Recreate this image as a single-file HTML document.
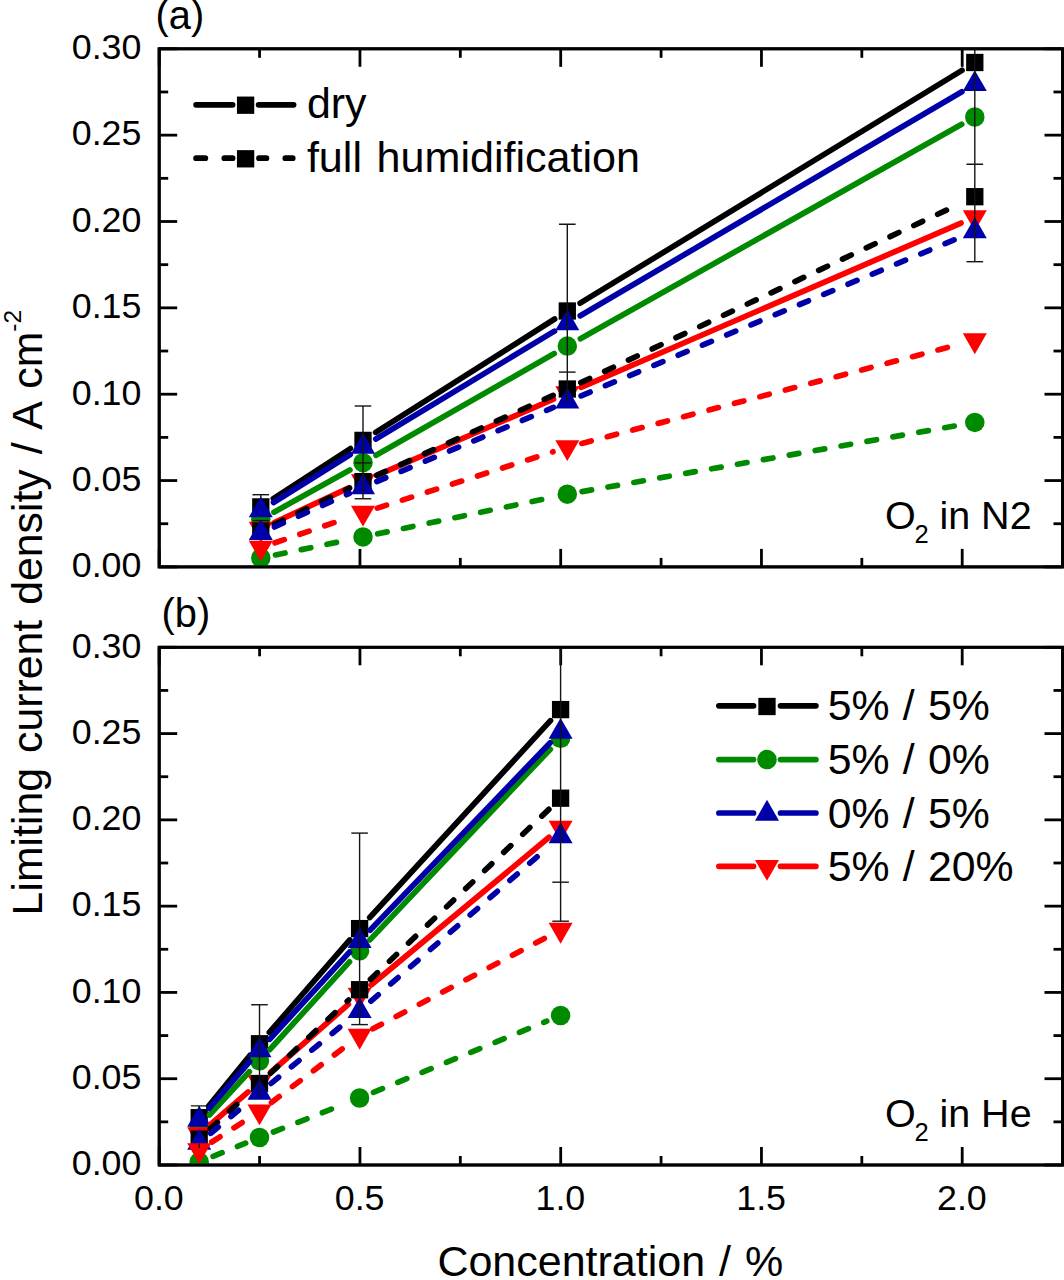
<!DOCTYPE html>
<html><head><meta charset="utf-8"><title>Limiting current density</title>
<style>
html,body{margin:0;padding:0;background:#fff;}
body{width:1064px;height:1280px;overflow:hidden;}
svg{display:block;}
text{font-family:"Liberation Sans",sans-serif;fill:#000;}
</style></head><body>
<svg width="1064" height="1280" viewBox="0 0 1064 1280">
<rect width="1064" height="1280" fill="#fff"/>

<defs><clipPath id="ct"><rect x="159.2" y="48.8" width="903.3" height="518.1"/></clipPath><clipPath id="cb"><rect x="159.2" y="647.3" width="903.3" height="517.7"/></clipPath></defs>
<g id="top">
<g stroke="#000" stroke-width="2.8" stroke-linecap="butt"><line x1="159.2" y1="566.90" x2="177.2" y2="566.90"/>
<line x1="1062.5" y1="566.90" x2="1044.5" y2="566.90"/>
<line x1="159.2" y1="523.73" x2="168.2" y2="523.73"/>
<line x1="1062.5" y1="523.73" x2="1053.5" y2="523.73"/>
<line x1="159.2" y1="480.55" x2="177.2" y2="480.55"/>
<line x1="1062.5" y1="480.55" x2="1044.5" y2="480.55"/>
<line x1="159.2" y1="437.37" x2="168.2" y2="437.37"/>
<line x1="1062.5" y1="437.37" x2="1053.5" y2="437.37"/>
<line x1="159.2" y1="394.20" x2="177.2" y2="394.20"/>
<line x1="1062.5" y1="394.20" x2="1044.5" y2="394.20"/>
<line x1="159.2" y1="351.02" x2="168.2" y2="351.02"/>
<line x1="1062.5" y1="351.02" x2="1053.5" y2="351.02"/>
<line x1="159.2" y1="307.85" x2="177.2" y2="307.85"/>
<line x1="1062.5" y1="307.85" x2="1044.5" y2="307.85"/>
<line x1="159.2" y1="264.67" x2="168.2" y2="264.67"/>
<line x1="1062.5" y1="264.67" x2="1053.5" y2="264.67"/>
<line x1="159.2" y1="221.50" x2="177.2" y2="221.50"/>
<line x1="1062.5" y1="221.50" x2="1044.5" y2="221.50"/>
<line x1="159.2" y1="178.32" x2="168.2" y2="178.32"/>
<line x1="1062.5" y1="178.32" x2="1053.5" y2="178.32"/>
<line x1="159.2" y1="135.15" x2="177.2" y2="135.15"/>
<line x1="1062.5" y1="135.15" x2="1044.5" y2="135.15"/>
<line x1="159.2" y1="91.97" x2="168.2" y2="91.97"/>
<line x1="1062.5" y1="91.97" x2="1053.5" y2="91.97"/>
<line x1="159.2" y1="48.80" x2="177.2" y2="48.80"/>
<line x1="1062.5" y1="48.80" x2="1044.5" y2="48.80"/>
<line x1="159.20" y1="566.9" x2="159.20" y2="548.9"/>
<line x1="159.20" y1="48.8" x2="159.20" y2="66.8"/>
<line x1="259.57" y1="566.9" x2="259.57" y2="557.9"/>
<line x1="259.57" y1="48.8" x2="259.57" y2="57.8"/>
<line x1="359.95" y1="566.9" x2="359.95" y2="548.9"/>
<line x1="359.95" y1="48.8" x2="359.95" y2="66.8"/>
<line x1="460.32" y1="566.9" x2="460.32" y2="557.9"/>
<line x1="460.32" y1="48.8" x2="460.32" y2="57.8"/>
<line x1="560.70" y1="566.9" x2="560.70" y2="548.9"/>
<line x1="560.70" y1="48.8" x2="560.70" y2="66.8"/>
<line x1="661.08" y1="566.9" x2="661.08" y2="557.9"/>
<line x1="661.08" y1="48.8" x2="661.08" y2="57.8"/>
<line x1="761.45" y1="566.9" x2="761.45" y2="548.9"/>
<line x1="761.45" y1="48.8" x2="761.45" y2="66.8"/>
<line x1="861.83" y1="566.9" x2="861.83" y2="557.9"/>
<line x1="861.83" y1="48.8" x2="861.83" y2="57.8"/>
<line x1="962.20" y1="566.9" x2="962.20" y2="548.9"/>
<line x1="962.20" y1="48.8" x2="962.20" y2="66.8"/></g><rect x="159.2" y="48.8" width="903.3" height="518.1" fill="none" stroke="#000" stroke-width="2.9"/>
<g clip-path="url(#ct)">
<line x1="273.37" y1="498.72" x2="350.43" y2="448.58" stroke="#000000" stroke-width="5.7" stroke-linecap="round"/>
<line x1="375.67" y1="432.37" x2="554.63" y2="319.03" stroke="#000000" stroke-width="5.7" stroke-linecap="round"/>
<line x1="580.11" y1="303.19" x2="961.99" y2="70.31" stroke="#000000" stroke-width="5.7" stroke-linecap="round"/>
<rect x="252.15" y="498.25" width="17.3" height="17.3" fill="#000000"/>
<rect x="354.35" y="431.75" width="17.3" height="17.3" fill="#000000"/>
<rect x="558.65" y="302.35" width="17.3" height="17.3" fill="#000000"/>
<rect x="966.15" y="53.85" width="17.3" height="17.3" fill="#000000"/>
<line x1="273.91" y1="512.21" x2="349.89" y2="469.99" stroke="#008A00" stroke-width="5.7" stroke-linecap="round"/>
<line x1="376.03" y1="455.26" x2="554.27" y2="353.54" stroke="#008A00" stroke-width="5.7" stroke-linecap="round"/>
<line x1="580.38" y1="338.75" x2="961.72" y2="124.35" stroke="#008A00" stroke-width="5.7" stroke-linecap="round"/>
<circle cx="260.80" cy="519.50" r="9.75" fill="#008A00"/>
<circle cx="363.00" cy="462.70" r="9.75" fill="#008A00"/>
<circle cx="567.30" cy="346.10" r="9.75" fill="#008A00"/>
<circle cx="974.80" cy="117.00" r="9.75" fill="#008A00"/>
<line x1="273.53" y1="502.47" x2="350.27" y2="454.63" stroke="#0000A8" stroke-width="5.7" stroke-linecap="round"/>
<line x1="375.84" y1="438.95" x2="554.46" y2="331.15" stroke="#0000A8" stroke-width="5.7" stroke-linecap="round"/>
<line x1="580.23" y1="315.80" x2="961.87" y2="91.70" stroke="#0000A8" stroke-width="5.7" stroke-linecap="round"/>
<polygon points="260.80,496.53 272.80,517.33 248.80,517.33" fill="#0000A8"/>
<polygon points="363.00,432.83 375.00,453.63 351.00,453.63" fill="#0000A8"/>
<polygon points="567.30,309.53 579.30,330.33 555.30,330.33" fill="#0000A8"/>
<polygon points="974.80,70.23 986.80,91.03 962.80,91.03" fill="#0000A8"/>
<line x1="274.40" y1="522.48" x2="349.40" y2="487.62" stroke="#FF0000" stroke-width="5.7" stroke-linecap="round"/>
<line x1="376.78" y1="475.37" x2="553.52" y2="399.23" stroke="#FF0000" stroke-width="5.7" stroke-linecap="round"/>
<line x1="581.07" y1="387.35" x2="961.03" y2="223.05" stroke="#FF0000" stroke-width="5.7" stroke-linecap="round"/>
<polygon points="260.80,542.67 272.80,521.87 248.80,521.87" fill="#FF0000"/>
<polygon points="363.00,495.17 375.00,474.37 351.00,474.37" fill="#FF0000"/>
<polygon points="567.30,407.17 579.30,386.37 555.30,386.37" fill="#FF0000"/>
<polygon points="974.80,230.97 986.80,210.17 962.80,210.17" fill="#FF0000"/>
<line x1="274.31" y1="524.47" x2="349.49" y2="488.13" stroke="#000000" stroke-width="5.7" stroke-linecap="round" stroke-dasharray="9.7 16.6"/>
<line x1="376.66" y1="475.41" x2="553.64" y2="395.19" stroke="#000000" stroke-width="5.7" stroke-linecap="round" stroke-dasharray="9.7 16.6"/>
<line x1="580.87" y1="382.60" x2="961.23" y2="203.10" stroke="#000000" stroke-width="5.7" stroke-linecap="round" stroke-dasharray="9.7 16.6"/>
<rect x="252.15" y="522.35" width="17.3" height="17.3" fill="#000000"/>
<rect x="354.35" y="472.95" width="17.3" height="17.3" fill="#000000"/>
<rect x="558.65" y="380.35" width="17.3" height="17.3" fill="#000000"/>
<rect x="966.15" y="188.05" width="17.3" height="17.3" fill="#000000"/>
<line x1="275.49" y1="554.97" x2="348.31" y2="539.93" stroke="#008A00" stroke-width="5.7" stroke-linecap="round" stroke-dasharray="9.7 16.6"/>
<line x1="377.68" y1="533.83" x2="552.62" y2="497.27" stroke="#008A00" stroke-width="5.7" stroke-linecap="round" stroke-dasharray="9.7 16.6"/>
<line x1="582.07" y1="491.60" x2="960.03" y2="425.00" stroke="#008A00" stroke-width="5.7" stroke-linecap="round" stroke-dasharray="9.7 16.6"/>
<circle cx="260.80" cy="558.00" r="9.75" fill="#008A00"/>
<circle cx="363.00" cy="536.90" r="9.75" fill="#008A00"/>
<circle cx="567.30" cy="494.20" r="9.75" fill="#008A00"/>
<circle cx="974.80" cy="422.40" r="9.75" fill="#008A00"/>
<line x1="274.49" y1="526.97" x2="349.31" y2="493.43" stroke="#0000A8" stroke-width="5.7" stroke-linecap="round" stroke-dasharray="9.7 16.6"/>
<line x1="376.83" y1="481.50" x2="553.47" y2="407.40" stroke="#0000A8" stroke-width="5.7" stroke-linecap="round" stroke-dasharray="9.7 16.6"/>
<line x1="581.14" y1="395.81" x2="960.96" y2="236.99" stroke="#0000A8" stroke-width="5.7" stroke-linecap="round" stroke-dasharray="9.7 16.6"/>
<polygon points="260.80,519.23 272.80,540.03 248.80,540.03" fill="#0000A8"/>
<polygon points="363.00,473.43 375.00,494.23 351.00,494.23" fill="#0000A8"/>
<polygon points="567.30,387.73 579.30,408.53 555.30,408.53" fill="#0000A8"/>
<polygon points="974.80,217.33 986.80,238.13 962.80,238.13" fill="#0000A8"/>
<line x1="275.00" y1="542.75" x2="348.80" y2="517.55" stroke="#FF0000" stroke-width="5.7" stroke-linecap="round" stroke-dasharray="9.7 16.6"/>
<line x1="377.28" y1="508.12" x2="553.02" y2="451.78" stroke="#FF0000" stroke-width="5.7" stroke-linecap="round" stroke-dasharray="9.7 16.6"/>
<line x1="581.81" y1="443.39" x2="960.29" y2="344.11" stroke="#FF0000" stroke-width="5.7" stroke-linecap="round" stroke-dasharray="9.7 16.6"/>
<polygon points="260.80,561.47 272.80,540.67 248.80,540.67" fill="#FF0000"/>
<polygon points="363.00,526.57 375.00,505.77 351.00,505.77" fill="#FF0000"/>
<polygon points="567.30,461.07 579.30,440.27 555.30,440.27" fill="#FF0000"/>
<polygon points="974.80,354.17 986.80,333.37 962.80,333.37" fill="#FF0000"/>
<line x1="260.80" y1="494.70" x2="260.80" y2="498.60" stroke="#141414" stroke-width="1.4"/>
<line x1="252.50" y1="494.70" x2="269.10" y2="494.70" stroke="#141414" stroke-width="1.4"/>
<line x1="252.50" y1="520.60" x2="269.10" y2="520.60" stroke="#141414" stroke-width="1.4"/>
<line x1="363.00" y1="406.00" x2="363.00" y2="498.75" stroke="#141414" stroke-width="1.4"/>
<line x1="354.70" y1="406.00" x2="371.30" y2="406.00" stroke="#141414" stroke-width="1.4"/>
<line x1="354.70" y1="462.90" x2="371.30" y2="462.90" stroke="#141414" stroke-width="1.4"/>
<line x1="354.70" y1="498.75" x2="371.30" y2="498.75" stroke="#141414" stroke-width="1.4"/>
<line x1="567.30" y1="224.30" x2="567.30" y2="403.00" stroke="#141414" stroke-width="1.4"/>
<line x1="559.00" y1="224.30" x2="575.60" y2="224.30" stroke="#141414" stroke-width="1.4"/>
<line x1="559.00" y1="372.10" x2="575.60" y2="372.10" stroke="#141414" stroke-width="1.4"/>
<line x1="974.80" y1="48.00" x2="974.80" y2="261.70" stroke="#141414" stroke-width="1.4"/>
<line x1="966.50" y1="164.30" x2="983.10" y2="164.30" stroke="#141414" stroke-width="1.4"/>
<line x1="966.50" y1="261.70" x2="983.10" y2="261.70" stroke="#141414" stroke-width="1.4"/>
</g>
<rect x="159.2" y="48.8" width="903.3" height="518.1" fill="none" stroke="#000" stroke-width="2.9"/><g font-size="35.8"><text x="141.4" y="577.20" text-anchor="end">0.00</text>
<text x="141.4" y="490.85" text-anchor="end">0.05</text>
<text x="141.4" y="404.50" text-anchor="end">0.10</text>
<text x="141.4" y="318.15" text-anchor="end">0.15</text>
<text x="141.4" y="231.80" text-anchor="end">0.20</text>
<text x="141.4" y="145.45" text-anchor="end">0.25</text>
<text x="141.4" y="59.10" text-anchor="end">0.30</text></g>
</g>
<g id="bottom">
<g stroke="#000" stroke-width="2.8" stroke-linecap="butt"><line x1="159.2" y1="1165.00" x2="177.2" y2="1165.00"/>
<line x1="1062.5" y1="1165.00" x2="1044.5" y2="1165.00"/>
<line x1="159.2" y1="1121.86" x2="168.2" y2="1121.86"/>
<line x1="1062.5" y1="1121.86" x2="1053.5" y2="1121.86"/>
<line x1="159.2" y1="1078.72" x2="177.2" y2="1078.72"/>
<line x1="1062.5" y1="1078.72" x2="1044.5" y2="1078.72"/>
<line x1="159.2" y1="1035.58" x2="168.2" y2="1035.58"/>
<line x1="1062.5" y1="1035.58" x2="1053.5" y2="1035.58"/>
<line x1="159.2" y1="992.43" x2="177.2" y2="992.43"/>
<line x1="1062.5" y1="992.43" x2="1044.5" y2="992.43"/>
<line x1="159.2" y1="949.29" x2="168.2" y2="949.29"/>
<line x1="1062.5" y1="949.29" x2="1053.5" y2="949.29"/>
<line x1="159.2" y1="906.15" x2="177.2" y2="906.15"/>
<line x1="1062.5" y1="906.15" x2="1044.5" y2="906.15"/>
<line x1="159.2" y1="863.01" x2="168.2" y2="863.01"/>
<line x1="1062.5" y1="863.01" x2="1053.5" y2="863.01"/>
<line x1="159.2" y1="819.87" x2="177.2" y2="819.87"/>
<line x1="1062.5" y1="819.87" x2="1044.5" y2="819.87"/>
<line x1="159.2" y1="776.72" x2="168.2" y2="776.72"/>
<line x1="1062.5" y1="776.72" x2="1053.5" y2="776.72"/>
<line x1="159.2" y1="733.58" x2="177.2" y2="733.58"/>
<line x1="1062.5" y1="733.58" x2="1044.5" y2="733.58"/>
<line x1="159.2" y1="690.44" x2="168.2" y2="690.44"/>
<line x1="1062.5" y1="690.44" x2="1053.5" y2="690.44"/>
<line x1="159.2" y1="647.30" x2="177.2" y2="647.30"/>
<line x1="1062.5" y1="647.30" x2="1044.5" y2="647.30"/>
<line x1="159.20" y1="1165.0" x2="159.20" y2="1147.0"/>
<line x1="159.20" y1="647.3" x2="159.20" y2="665.3"/>
<line x1="259.57" y1="1165.0" x2="259.57" y2="1156.0"/>
<line x1="259.57" y1="647.3" x2="259.57" y2="656.3"/>
<line x1="359.95" y1="1165.0" x2="359.95" y2="1147.0"/>
<line x1="359.95" y1="647.3" x2="359.95" y2="665.3"/>
<line x1="460.32" y1="1165.0" x2="460.32" y2="1156.0"/>
<line x1="460.32" y1="647.3" x2="460.32" y2="656.3"/>
<line x1="560.70" y1="1165.0" x2="560.70" y2="1147.0"/>
<line x1="560.70" y1="647.3" x2="560.70" y2="665.3"/>
<line x1="661.08" y1="1165.0" x2="661.08" y2="1156.0"/>
<line x1="661.08" y1="647.3" x2="661.08" y2="656.3"/>
<line x1="761.45" y1="1165.0" x2="761.45" y2="1147.0"/>
<line x1="761.45" y1="647.3" x2="761.45" y2="665.3"/>
<line x1="861.83" y1="1165.0" x2="861.83" y2="1156.0"/>
<line x1="861.83" y1="647.3" x2="861.83" y2="656.3"/>
<line x1="962.20" y1="1165.0" x2="962.20" y2="1147.0"/>
<line x1="962.20" y1="647.3" x2="962.20" y2="665.3"/></g><rect x="159.2" y="647.3" width="903.3" height="517.7" fill="none" stroke="#000" stroke-width="2.9"/>
<g clip-path="url(#cb)">
<line x1="208.68" y1="1106.07" x2="250.02" y2="1055.38" stroke="#000000" stroke-width="5.7" stroke-linecap="round"/>
<line x1="269.34" y1="1032.43" x2="349.76" y2="939.92" stroke="#000000" stroke-width="5.7" stroke-linecap="round"/>
<line x1="369.74" y1="917.55" x2="550.46" y2="720.65" stroke="#000000" stroke-width="5.7" stroke-linecap="round"/>
<rect x="190.55" y="1109.05" width="17.3" height="17.3" fill="#000000"/>
<rect x="250.85" y="1035.10" width="17.3" height="17.3" fill="#000000"/>
<rect x="350.95" y="919.95" width="17.3" height="17.3" fill="#000000"/>
<rect x="551.95" y="700.95" width="17.3" height="17.3" fill="#000000"/>
<line x1="209.38" y1="1114.99" x2="249.32" y2="1071.81" stroke="#008A00" stroke-width="5.7" stroke-linecap="round"/>
<line x1="269.60" y1="1049.71" x2="349.50" y2="961.89" stroke="#008A00" stroke-width="5.7" stroke-linecap="round"/>
<line x1="369.91" y1="939.90" x2="550.29" y2="749.20" stroke="#008A00" stroke-width="5.7" stroke-linecap="round"/>
<circle cx="199.20" cy="1126.00" r="9.75" fill="#008A00"/>
<circle cx="259.50" cy="1060.80" r="9.75" fill="#008A00"/>
<circle cx="359.60" cy="950.80" r="9.75" fill="#008A00"/>
<circle cx="560.60" cy="738.30" r="9.75" fill="#008A00"/>
<line x1="209.05" y1="1108.38" x2="249.65" y2="1061.72" stroke="#0000A8" stroke-width="5.7" stroke-linecap="round"/>
<line x1="269.63" y1="1039.33" x2="349.47" y2="952.07" stroke="#0000A8" stroke-width="5.7" stroke-linecap="round"/>
<line x1="370.00" y1="930.19" x2="550.20" y2="742.71" stroke="#0000A8" stroke-width="5.7" stroke-linecap="round"/>
<polygon points="199.20,1105.83 211.20,1126.63 187.20,1126.63" fill="#0000A8"/>
<polygon points="259.50,1036.53 271.50,1057.33 247.50,1057.33" fill="#0000A8"/>
<polygon points="359.60,927.13 371.60,947.93 347.60,947.93" fill="#0000A8"/>
<polygon points="560.60,718.03 572.60,738.83 548.60,738.83" fill="#0000A8"/>
<line x1="210.54" y1="1124.48" x2="248.16" y2="1091.92" stroke="#FF0000" stroke-width="5.7" stroke-linecap="round"/>
<line x1="270.79" y1="1072.23" x2="348.31" y2="1004.47" stroke="#FF0000" stroke-width="5.7" stroke-linecap="round"/>
<line x1="371.14" y1="985.02" x2="549.06" y2="837.28" stroke="#FF0000" stroke-width="5.7" stroke-linecap="round"/>
<polygon points="199.20,1148.17 211.20,1127.37 187.20,1127.37" fill="#FF0000"/>
<polygon points="259.50,1095.97 271.50,1075.17 247.50,1075.17" fill="#FF0000"/>
<polygon points="359.60,1008.47 371.60,987.67 347.60,987.67" fill="#FF0000"/>
<polygon points="560.60,841.57 572.60,820.77 548.60,820.77" fill="#FF0000"/>
<line x1="210.23" y1="1128.93" x2="248.47" y2="1093.67" stroke="#000000" stroke-width="5.7" stroke-linecap="round" stroke-dasharray="9.7 16.6"/>
<line x1="270.45" y1="1073.24" x2="348.65" y2="999.96" stroke="#000000" stroke-width="5.7" stroke-linecap="round" stroke-dasharray="9.7 16.6"/>
<line x1="370.46" y1="979.35" x2="549.74" y2="808.55" stroke="#000000" stroke-width="5.7" stroke-linecap="round" stroke-dasharray="9.7 16.6"/>
<rect x="190.55" y="1130.45" width="17.3" height="17.3" fill="#000000"/>
<rect x="250.85" y="1074.85" width="17.3" height="17.3" fill="#000000"/>
<rect x="350.95" y="981.05" width="17.3" height="17.3" fill="#000000"/>
<rect x="551.95" y="789.55" width="17.3" height="17.3" fill="#000000"/>
<line x1="213.10" y1="1156.35" x2="245.60" y2="1143.15" stroke="#008A00" stroke-width="5.7" stroke-linecap="round" stroke-dasharray="9.7 16.6"/>
<line x1="273.45" y1="1131.99" x2="345.65" y2="1103.51" stroke="#008A00" stroke-width="5.7" stroke-linecap="round" stroke-dasharray="9.7 16.6"/>
<line x1="373.48" y1="1092.30" x2="546.72" y2="1021.20" stroke="#008A00" stroke-width="5.7" stroke-linecap="round" stroke-dasharray="9.7 16.6"/>
<circle cx="199.20" cy="1162.00" r="9.75" fill="#008A00"/>
<circle cx="259.50" cy="1137.50" r="9.75" fill="#008A00"/>
<circle cx="359.60" cy="1098.00" r="9.75" fill="#008A00"/>
<circle cx="560.60" cy="1015.50" r="9.75" fill="#008A00"/>
<line x1="210.75" y1="1133.33" x2="247.95" y2="1102.47" stroke="#0000A8" stroke-width="5.7" stroke-linecap="round" stroke-dasharray="9.7 16.6"/>
<line x1="271.11" y1="1083.40" x2="347.99" y2="1020.50" stroke="#0000A8" stroke-width="5.7" stroke-linecap="round" stroke-dasharray="9.7 16.6"/>
<line x1="370.92" y1="1001.16" x2="549.28" y2="846.24" stroke="#0000A8" stroke-width="5.7" stroke-linecap="round" stroke-dasharray="9.7 16.6"/>
<polygon points="199.20,1129.03 211.20,1149.83 187.20,1149.83" fill="#0000A8"/>
<polygon points="259.50,1079.03 271.50,1099.83 247.50,1099.83" fill="#0000A8"/>
<polygon points="359.60,997.13 371.60,1017.93 347.60,1017.93" fill="#0000A8"/>
<polygon points="560.60,822.53 572.60,843.33 548.60,843.33" fill="#0000A8"/>
<line x1="211.83" y1="1142.01" x2="246.87" y2="1119.59" stroke="#FF0000" stroke-width="5.7" stroke-linecap="round" stroke-dasharray="9.7 16.6"/>
<line x1="271.46" y1="1102.45" x2="347.64" y2="1044.85" stroke="#FF0000" stroke-width="5.7" stroke-linecap="round" stroke-dasharray="9.7 16.6"/>
<line x1="372.87" y1="1028.80" x2="547.33" y2="936.80" stroke="#FF0000" stroke-width="5.7" stroke-linecap="round" stroke-dasharray="9.7 16.6"/>
<polygon points="199.20,1163.97 211.20,1143.17 187.20,1143.17" fill="#FF0000"/>
<polygon points="259.50,1125.37 271.50,1104.57 247.50,1104.57" fill="#FF0000"/>
<polygon points="359.60,1049.67 371.60,1028.87 347.60,1028.87" fill="#FF0000"/>
<polygon points="560.60,943.67 572.60,922.87 548.60,922.87" fill="#FF0000"/>
<line x1="199.20" y1="1105.90" x2="199.20" y2="1109.40" stroke="#141414" stroke-width="1.4"/>
<line x1="190.90" y1="1105.90" x2="207.50" y2="1105.90" stroke="#141414" stroke-width="1.4"/>
<line x1="199.20" y1="1143.50" x2="199.20" y2="1148.00" stroke="#141414" stroke-width="1.4"/>
<line x1="259.50" y1="1004.75" x2="259.50" y2="1096.00" stroke="#141414" stroke-width="1.4"/>
<line x1="251.20" y1="1004.75" x2="267.80" y2="1004.75" stroke="#141414" stroke-width="1.4"/>
<line x1="359.60" y1="833.10" x2="359.60" y2="1024.60" stroke="#141414" stroke-width="1.4"/>
<line x1="351.30" y1="833.10" x2="367.90" y2="833.10" stroke="#141414" stroke-width="1.4"/>
<line x1="351.30" y1="1024.60" x2="367.90" y2="1024.60" stroke="#141414" stroke-width="1.4"/>
<line x1="560.60" y1="640.00" x2="560.60" y2="921.20" stroke="#141414" stroke-width="1.4"/>
<line x1="552.30" y1="882.20" x2="568.90" y2="882.20" stroke="#141414" stroke-width="1.4"/>
<line x1="552.30" y1="921.20" x2="568.90" y2="921.20" stroke="#141414" stroke-width="1.4"/>
</g>
<rect x="159.2" y="647.3" width="903.3" height="517.7" fill="none" stroke="#000" stroke-width="2.9"/><g font-size="35.8"><text x="141.4" y="1175.30" text-anchor="end">0.00</text>
<text x="141.4" y="1089.02" text-anchor="end">0.05</text>
<text x="141.4" y="1002.73" text-anchor="end">0.10</text>
<text x="141.4" y="916.45" text-anchor="end">0.15</text>
<text x="141.4" y="830.17" text-anchor="end">0.20</text>
<text x="141.4" y="743.88" text-anchor="end">0.25</text>
<text x="141.4" y="657.60" text-anchor="end">0.30</text></g>
</g>
<g font-size="35.8"><text x="158.90" y="1210.4" text-anchor="middle">0.0</text>
<text x="359.65" y="1210.4" text-anchor="middle">0.5</text>
<text x="560.40" y="1210.4" text-anchor="middle">1.0</text>
<text x="761.15" y="1210.4" text-anchor="middle">1.5</text>
<text x="961.90" y="1210.4" text-anchor="middle">2.0</text></g>
<text x="437.4" y="1275.6" font-size="43.0" word-spacing="2.0">Concentration / %</text>
<text transform="translate(42.4,915.4) rotate(-90)" font-size="42.8" word-spacing="3.05">Limiting current density / A cm<tspan font-size="24.5" dy="-21.3">-2</tspan></text>
<text x="155.5" y="28.7" font-size="39.8">(a)</text>
<text x="161.5" y="627.3" font-size="39.8">(b)</text>
<text y="528.8" font-size="39.5"><tspan x="884.9">O</tspan><tspan x="914.6" font-size="25.5" dy="14">2</tspan><tspan x="939.4" dy="-14">in N2</tspan></text>
<text y="1127" font-size="39.5"><tspan x="884.9">O</tspan><tspan x="914.6" font-size="25.5" dy="14">2</tspan><tspan x="939.4" dy="-14">in He</tspan></text>
<line x1="196.1" y1="104.8" x2="232.6" y2="104.8" stroke="#000000" stroke-width="5.7" stroke-linecap="round"/>
<line x1="258.6" y1="104.8" x2="293.6" y2="104.8" stroke="#000000" stroke-width="5.7" stroke-linecap="round"/>
<rect x="236.95" y="96.55" width="17.3" height="17.3" fill="#000000"/>
<line x1="196.1" y1="158.2" x2="205.3" y2="158.2" stroke="#000000" stroke-width="5.7" stroke-linecap="round"/>
<line x1="224.3" y1="158.2" x2="232.6" y2="158.2" stroke="#000000" stroke-width="5.7" stroke-linecap="round"/>
<line x1="259.0" y1="158.2" x2="266.4" y2="158.2" stroke="#000000" stroke-width="5.7" stroke-linecap="round"/>
<line x1="285.3" y1="158.2" x2="292.7" y2="158.2" stroke="#000000" stroke-width="5.7" stroke-linecap="round"/>
<rect x="236.95" y="150.15" width="17.3" height="17.3" fill="#000000"/>
<text x="306.9" y="118.4" font-size="42.9">dry</text>
<text x="306.9" y="172.3" font-size="43.1" word-spacing="2.6">full humidification</text>
<line x1="718.9" y1="705.8" x2="753.5" y2="705.8" stroke="#000000" stroke-width="5.7" stroke-linecap="round"/>
<line x1="780.5" y1="705.8" x2="815.9" y2="705.8" stroke="#000000" stroke-width="5.7" stroke-linecap="round"/>
<rect x="758.35" y="697.85" width="17.3" height="17.3" fill="#000000"/>
<text x="827.7" y="720.3" font-size="42.8" word-spacing="1.4">5% / 5%</text>
<line x1="718.9" y1="759.6" x2="753.5" y2="759.6" stroke="#008A00" stroke-width="5.7" stroke-linecap="round"/>
<line x1="780.5" y1="759.6" x2="815.9" y2="759.6" stroke="#008A00" stroke-width="5.7" stroke-linecap="round"/>
<circle cx="767.00" cy="759.60" r="9.75" fill="#008A00"/>
<text x="827.7" y="774.1" font-size="42.8" word-spacing="1.4">5% / 0%</text>
<line x1="718.9" y1="813.0" x2="753.5" y2="813.0" stroke="#0000A8" stroke-width="5.7" stroke-linecap="round"/>
<line x1="780.5" y1="813.0" x2="815.9" y2="813.0" stroke="#0000A8" stroke-width="5.7" stroke-linecap="round"/>
<polygon points="767.00,799.83 779.00,820.63 755.00,820.63" fill="#0000A8"/>
<text x="827.7" y="827.5" font-size="42.8" word-spacing="1.4">0% / 5%</text>
<line x1="718.9" y1="866.3" x2="753.5" y2="866.3" stroke="#FF0000" stroke-width="5.7" stroke-linecap="round"/>
<line x1="780.5" y1="866.3" x2="815.9" y2="866.3" stroke="#FF0000" stroke-width="5.7" stroke-linecap="round"/>
<polygon points="767.00,880.87 779.00,860.07 755.00,860.07" fill="#FF0000"/>
<text x="827.7" y="880.8" font-size="42.8" word-spacing="1.4">5% / 20%</text>
</svg></body></html>
